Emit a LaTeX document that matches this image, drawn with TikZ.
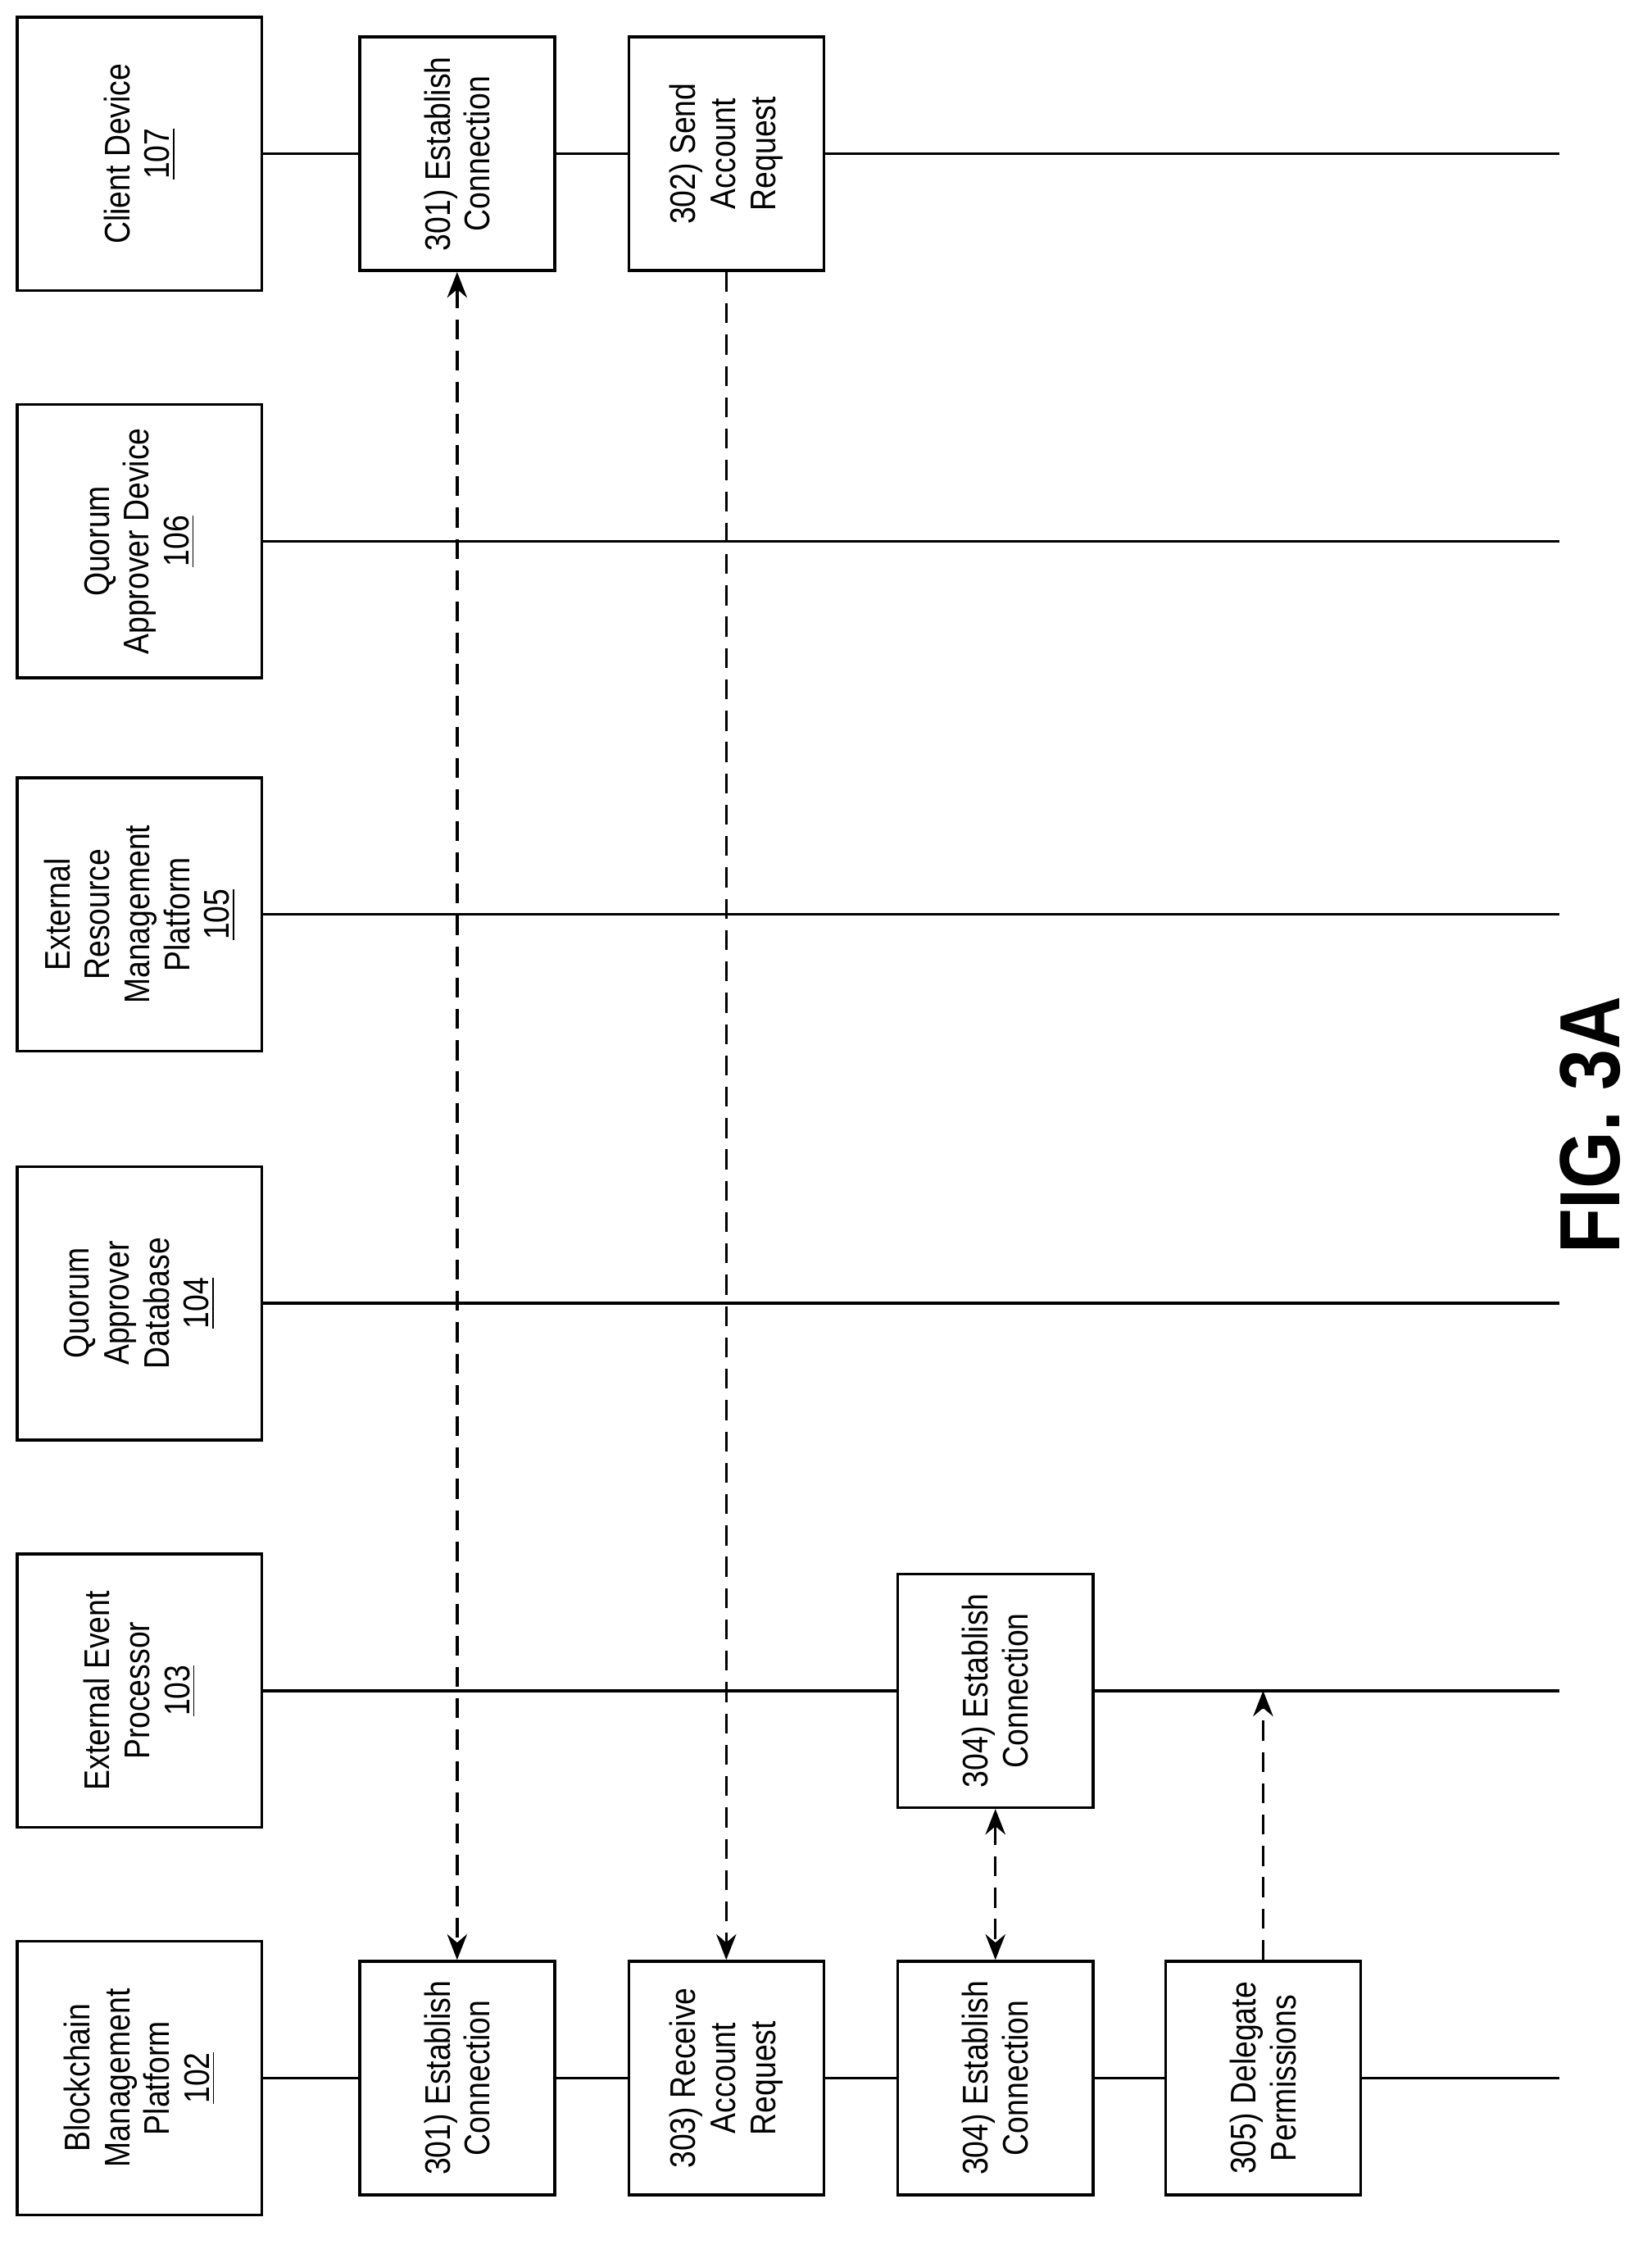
\documentclass[tikz,border=0pt]{standalone}
\usepackage{fontspec}
\setmainfont{Liberation Sans}[FakeStretch=0.86]
\usetikzlibrary{arrows.meta}
\begin{document}
\begin{tikzpicture}[x=0.5pt,y=-0.5pt,
 hdr/.style={draw,line width=1pt,rotate=90,minimum width=96pt,minimum height=86pt,align=center,inner sep=2pt,fill=white,font=\fontsize{12.5}{14}\selectfont},
 stp/.style={draw,line width=1pt,rotate=90,minimum width=82pt,minimum height=68.5pt,align=center,inner sep=2pt,fill=white,font=\fontsize{12.5}{14}\selectfont},
 life/.style={line width=1pt},
 msg/.style={line width=1pt,dash pattern=on 7pt off 4pt,-{Stealth[length=9pt,width=7pt]}},
 msg2/.style={msg,{Stealth[length=9pt,width=7pt]}-{Stealth[length=9pt,width=7pt]}}]
\useasboundingbox (0,0) rectangle (1160,1579);
% headers
\node[hdr] (h107) at (98,108) {Client Device\\\underline{107}};
\node[hdr] (h106) at (98,380) {Quorum\\Approver Device\\\underline{106}};
\node[hdr] (h105) at (98,642) {External\\Resource\\Management\\Platform\\\underline{105}};
\node[hdr] (h104) at (98,915) {Quorum\\Approver\\Database\\\underline{104}};
\node[hdr] (h103) at (98,1187) {External Event\\Processor\\\underline{103}};
\node[hdr] (h102) at (98,1459) {Blockchain\\Management\\Platform\\\underline{102}};
\foreach \n/\y in {107/108,106/380,105/642,104/915,103/1187,102/1459}{
  \coordinate (e\n) at (1095,\y);
  \draw[life] (h\n) -- (e\n);}
% steps
\node[stp] (c301) at (321,108) {301) Establish\\Connection};
\node[stp] (c302) at (510,108) {302) Send\\Account\\Request};
\node[stp] (b301) at (321,1459) {301) Establish\\Connection};
\node[stp] (b303) at (510,1459) {303) Receive\\Account\\Request};
\node[stp] (b304) at (699,1459) {304) Establish\\Connection};
\node[stp] (b305) at (887,1459) {305) Delegate\\Permissions};
\node[stp] (p304) at (699,1187) {304) Establish\\Connection};
\coordinate (t305) at (887,1187);
% messages
\draw[msg2] (c301) -- (b301);
\draw[msg] (c302) -- (b303);
\draw[msg2] (p304) -- (b304);
\draw[msg] (b305) -- (t305);
\node[rotate=90,font=\fontsize{30}{36}\selectfont\bfseries] (fig) at (1117,790) {FIG. 3A};
\end{tikzpicture}
\end{document}
